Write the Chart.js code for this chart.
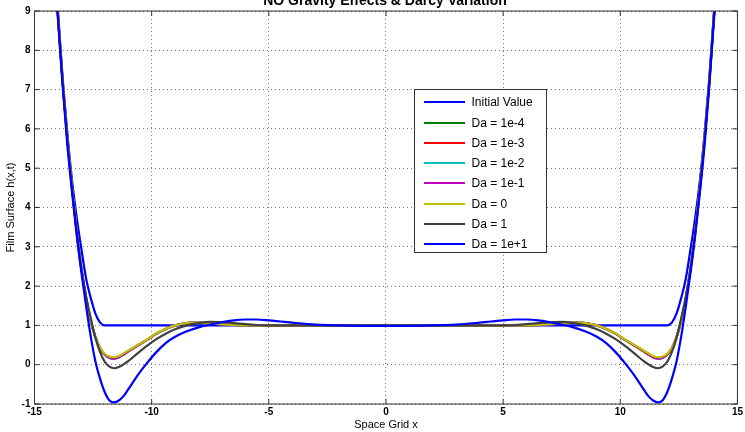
<!DOCTYPE html>
<html>
<head>
<meta charset="utf-8">
<script src="https://cdn.jsdelivr.net/npm/chart.js@4.4.1/dist/chart.umd.min.js"></script>
<style>
  html, body { margin: 0; padding: 0; background: #fff; overflow: hidden; }
  #wrap { position: relative; width: 745px; height: 432px; overflow: hidden; }
  #chart { position: absolute; left: 0; top: 0; }
  #title {
    position: absolute; left: 0; top: -8px; width: 770px; text-align: center;
    font: bold 14px "Liberation Sans", Arial, sans-serif; line-height: 16px; color: #000;
  }
  #legend {
    position: absolute; left: 414px; top: 89px; width: 131px; height: 162px;
    border: 1px solid #333; background: #fff;
    font: 12px "Liberation Sans", Arial, sans-serif; color: #000;
  }
  .row { position: absolute; left: 0; height: 20px; display: flex; align-items: center; }
  .swatch { display: inline-block; width: 41px; height: 2px; margin-left: 9px; }
  .lbl { margin-left: 6.5px; white-space: nowrap; }
</style>
</head>
<body>
<div id="wrap">
  <canvas id="chart" width="745" height="432"></canvas>
  <div id="title">NO Gravity Effects &amp; Darcy Variation</div>
  <div id="legend"></div>
</div>
<script>
// grid points along x
const xGrid = [-14.2, -14, -13.8, -13.6, -13.4, -13.2, -13, -12.8, -12.6, -12.4, -12.2, -12, -11.8, -11.6, -11.4, -11.2, -11,
  -10.6, -10.2, -9.8, -9.4, -9, -8.5, -8, -7.5, -7, -6.5, -6, -5.5, -5, -4.5, -4, -3, -2, -1, 0,
  1, 2, 3, 4, 4.5, 5, 5.5, 6, 6.5, 7, 7.5, 8, 8.5, 9, 9.4, 9.8, 10.2, 10.6,
  11, 11.2, 11.4, 11.6, 11.8, 12, 12.2, 12.4, 12.6, 12.8, 13, 13.2, 13.4, 13.6, 13.8, 14, 14.2];

const hInitial = [10.68, 9.0, 7.3, 5.9, 4.7, 3.75, 2.95, 2.2, 1.7, 1.3, 1.07, 1.0, 1, 1, 1, 1, 1,
  1, 1, 1, 1, 1, 1, 1, 1, 1, 1, 1, 1, 1, 1, 1, 1, 1, 1, 1,
  1, 1, 1, 1, 1, 1, 1, 1, 1, 1, 1, 1, 1, 1, 1, 1, 1, 1,
  1, 1, 1, 1, 1, 1.0, 1.07, 1.3, 1.7, 2.2, 2.95, 3.75, 4.7, 5.9, 7.3, 9.0, 10.68];

const hDa1em4 = [10.5, 8.9, 7.2, 5.75, 4.5, 3.4, 2.45, 1.7, 1.12, 0.7, 0.42, 0.26, 0.18, 0.16, 0.19, 0.26, 0.34,
  0.49, 0.63, 0.79, 0.91, 1.0, 1.06, 1.07, 1.05, 1.03, 1.01, 1.0, 1.0, 1.0, 1.0, 1.0, 1.0, 1.0, 1.0, 1.0,
  1.0, 1.0, 1.0, 1.0, 1.0, 1.0, 1.0, 1.0, 1.01, 1.03, 1.05, 1.07, 1.06, 1.0, 0.91, 0.79, 0.63, 0.49,
  0.34, 0.26, 0.19, 0.16, 0.18, 0.26, 0.42, 0.7, 1.12, 1.7, 2.45, 3.4, 4.5, 5.75, 7.2, 8.9, 10.5];
const hDa1em3 = hDa1em4;
const hDa1em2 = hDa1em4;
const hDa1em1 = [10.5, 8.9, 7.2, 5.75, 4.5, 3.4, 2.45, 1.7, 1.12, 0.7, 0.42, 0.26, 0.18, 0.16, 0.19, 0.26, 0.34,
  0.49, 0.63, 0.79, 0.91, 1.0, 1.06, 1.07, 1.05, 1.03, 1.01, 1.0, 1.0, 1.0, 1.0, 1.0, 1.0, 1.0, 1.0, 1.0,
  1.0, 1.0, 1.0, 1.0, 1.0, 1.0, 1.0, 1.0, 1.01, 1.03, 1.05, 1.07, 1.06, 1.0, 0.91, 0.79, 0.63, 0.49,
  0.34, 0.26, 0.19, 0.16, 0.18, 0.26, 0.42, 0.7, 1.12, 1.7, 2.45, 3.4, 4.5, 5.75, 7.2, 8.9, 10.5];
const hDa0 = [10.5, 8.9, 7.2, 5.75, 4.5, 3.4, 2.45, 1.7, 1.12, 0.7, 0.43, 0.28, 0.21, 0.19, 0.22, 0.29, 0.36,
  0.5, 0.64, 0.8, 0.91, 1.0, 1.06, 1.07, 1.05, 1.03, 1.01, 1.0, 1.0, 1.0, 1.0, 1.0, 1.0, 1.0, 1.0, 1.0,
  1.0, 1.0, 1.0, 1.0, 1.0, 1.0, 1.0, 1.0, 1.01, 1.03, 1.05, 1.07, 1.06, 1.0, 0.91, 0.8, 0.64, 0.5,
  0.36, 0.29, 0.22, 0.19, 0.21, 0.28, 0.43, 0.7, 1.12, 1.7, 2.45, 3.4, 4.5, 5.75, 7.2, 8.9, 10.5];
const hDa1 = [10.5, 8.9, 7.2, 5.75, 4.5, 3.4, 2.45, 1.75, 1.18, 0.68, 0.32, 0.07, -0.05, -0.09, -0.06, 0.01, 0.09,
  0.29, 0.48, 0.65, 0.79, 0.9, 1.0, 1.06, 1.09, 1.08, 1.06, 1.03, 1.01, 1.0, 1.0, 1.0, 1.0, 1.0, 1.0, 1.0,
  1.0, 1.0, 1.0, 1.0, 1.0, 1.0, 1.01, 1.03, 1.06, 1.08, 1.09, 1.06, 1.0, 0.9, 0.79, 0.65, 0.48, 0.29,
  0.09, 0.01, -0.06, -0.09, -0.05, 0.07, 0.32, 0.68, 1.18, 1.75, 2.45, 3.4, 4.5, 5.75, 7.2, 8.9, 10.5];
const hDa10 = [10.4, 8.8, 7.1, 5.6, 4.4, 3.3, 2.35, 1.5, 0.72, 0.08, -0.36, -0.7, -0.91, -0.96, -0.91, -0.8, -0.63,
  -0.27, 0.04, 0.32, 0.55, 0.71, 0.85, 0.95, 1.02, 1.08, 1.13, 1.15, 1.15, 1.13, 1.1, 1.07, 1.02, 1.0, 0.99, 0.99,
  0.99, 1.0, 1.02, 1.07, 1.1, 1.13, 1.15, 1.15, 1.13, 1.08, 1.02, 0.95, 0.85, 0.71, 0.55, 0.32, 0.04, -0.27,
  -0.63, -0.8, -0.91, -0.96, -0.91, -0.7, -0.36, 0.08, 0.72, 1.5, 2.35, 3.3, 4.4, 5.6, 7.1, 8.8, 10.4];

const seriesNames = ['Initial Value', 'Da = 1e-4', 'Da = 1e-3', 'Da = 1e-2', 'Da = 1e-1', 'Da = 0', 'Da = 1', 'Da = 1e+1'];
const seriesValues = [hInitial, hDa1em4, hDa1em3, hDa1em2, hDa1em1, hDa0, hDa1, hDa10];
const seriesColors = ['#0000ff', '#008000', '#ff0000', '#00bfbf', '#bf00bf', '#bfbf00', '#404040', '#0000ff'];

const FONT = '"Liberation Sans", Arial, sans-serif';

// frame box with inward ticks like matlab
const framePlugin = {
    id: 'frame',
    afterDatasetsDraw(chart) {
        const { ctx, chartArea: a, scales } = chart;
        ctx.save();
        ctx.strokeStyle = '#333';
        ctx.lineWidth = 1;
        ctx.strokeRect(a.left, a.top, a.right - a.left, a.bottom - a.top);
        ctx.beginPath();
        scales.x.ticks.forEach(t => {
            const px = scales.x.getPixelForValue(t.value);
            ctx.moveTo(px, a.bottom); ctx.lineTo(px, a.bottom - 5);
            ctx.moveTo(px, a.top); ctx.lineTo(px, a.top + 5);
        });
        scales.y.ticks.forEach(t => {
            const py = scales.y.getPixelForValue(t.value);
            ctx.moveTo(a.left, py); ctx.lineTo(a.left + 5, py);
            ctx.moveTo(a.right, py); ctx.lineTo(a.right - 5, py);
        });
        ctx.stroke();
        ctx.restore();
    }
};

const datasets = seriesNames.map((name, i) => ({
    label: name,
    data: xGrid.map((x, j) => ({ x: x, y: seriesValues[i][j] })),
    borderColor: seriesColors[i],
    borderWidth: 2.2,
    pointRadius: 0,
    fill: false,
    cubicInterpolationMode: 'monotone',
    order: seriesNames.length - i   // later series drawn on top
}));

new Chart(document.getElementById('chart'), {
    type: 'line',
    data: { datasets: datasets },
    plugins: [framePlugin],
    options: {
        responsive: false,
        animation: false,
        layout: { padding: { top: 11, right: 6.5, left: 0, bottom: 0 } },
        plugins: {
            legend: { display: false },
            title: { display: false },
            tooltip: { enabled: false }
        },
        scales: {
            x: {
                type: 'linear',
                min: -15, max: 15,
                ticks: { stepSize: 5, color: '#000', padding: 2, maxRotation: 0, font: { family: FONT, size: 10, weight: 'bold' } },
                grid: { color: '#777', drawTicks: false },
                border: { display: false, dash: [1, 3] },
                title: { display: true, text: 'Space Grid x', color: '#000', padding: { top: 0, bottom: 0 }, font: { family: FONT, size: 11 } },
                afterFit: s => { s.height = 28; }
            },
            y: {
                min: -1, max: 9,
                ticks: { stepSize: 1, color: '#000', padding: 4, font: { family: FONT, size: 10, weight: 'bold' } },
                grid: { color: '#777', drawTicks: false },
                border: { display: false, dash: [1, 3] },
                title: { display: true, text: 'Film Surface h(x,t)', color: '#000', padding: { top: 4, bottom: 0 }, font: { family: FONT, size: 11 } },
                afterFit: s => { s.width = 34.5; }
            }
        }
    }
});

// legend inside the plot, like the original
const legendBox = document.getElementById('legend');
seriesNames.forEach((name, i) => {
    const row = document.createElement('div');
    row.className = 'row';
    row.style.top = (2.3 + i * 20.24) + 'px';
    const sw = document.createElement('span');
    sw.className = 'swatch';
    sw.style.background = seriesColors[i];
    const lbl = document.createElement('span');
    lbl.className = 'lbl';
    lbl.textContent = name;
    row.appendChild(sw);
    row.appendChild(lbl);
    legendBox.appendChild(row);
});
</script>
</body>
</html>
